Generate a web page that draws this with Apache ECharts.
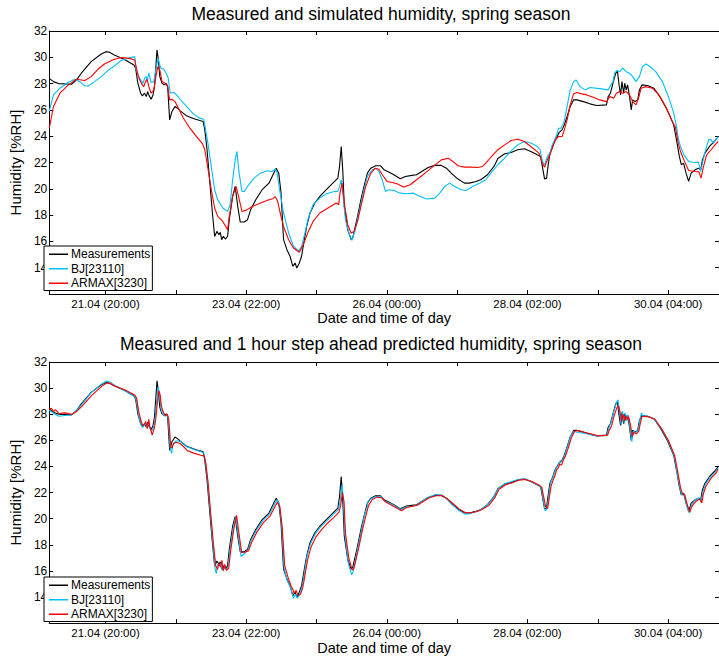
<!DOCTYPE html>
<html>
<head>
<meta charset="utf-8">
<script src="https://cdn.jsdelivr.net/npm/echarts@6/dist/echarts.min.js"></script>
<style>
html,body{margin:0;padding:0;background:#fff;}
#chart{width:719px;height:656px;}
</style>
</head>
<body>
<div id="chart"></div>
<script>
// ---- data (x = hours since 21.04 00:00, y = humidity %RH) ----
const seriesNames = ['Measurements', 'BJ[23110]', 'ARMAX[3230]'];
const titles = ['Measured and simulated humidity, spring season',
                'Measured and 1 hour step ahead predicted humidity, spring season'];
const xAxisTitle = 'Date and time of day';
const yAxisTitle = 'Humidity [%RH]';
const tickHours = [20, 45, 70, 95, 120, 145, 170, 195, 220];
const labelHours = [20, 70, 120, 170, 220];
const labelTexts = ['21.04 (20:00)', '23.04 (22:00)', '26.04 (00:00)', '28.04 (02:00)', '30.04 (04:00)'];

const measured = [[0,28.4],[1.5,28.15],[3.3,28.0],[7.9,27.95],[9.7,28.28],[11.4,28.79],[14.9,29.67],[18.5,30.25],[20.2,30.43],[21.4,30.38],[23.1,30.18],[26.6,29.85],[30.1,29.42],[30.7,29.17],[31.5,28.03],[32.5,27.27],[33.1,27.07],[33.9,27.27],[34.5,27.01],[35.0,27.39],[35.4,27.14],[36.2,26.81],[36.9,27.14],[37.4,27.77],[37.9,29.29],[38.3,30.56],[38.8,29.8],[39.3,28.53],[40.1,28.03],[40.9,27.9],[41.6,28.03],[42.1,27.77],[42.8,25.24],[43.6,25.87],[44.7,26.26],[45.6,26.13],[46.5,25.95],[48.8,25.55],[51.2,25.35],[53.5,25.19],[54.7,25.12],[55.3,24.48],[56.1,22.97],[57.0,20.69],[58.0,18.16],[58.8,16.38],[59.6,16.76],[60.3,16.51],[60.8,16.69],[61.3,16.13],[61.9,16.39],[62.6,16.18],[63.4,16.38],[64.0,17.65],[65.2,19.42],[66.1,20.18],[67.0,18.66],[67.9,17.47],[69.3,17.47],[70.5,17.65],[71.6,18.41],[73.4,19.17],[75.7,19.93],[78.1,20.43],[79.8,21.19],[80.7,21.57],[81.6,21.19],[82.4,19.67],[83.3,16.13],[84.5,15.37],[85.6,14.87],[86.6,14.1],[87.4,14.36],[88.0,13.98],[88.9,14.36],[89.7,14.87],[90.3,15.63],[91.5,17.14],[92.7,18.16],[94.4,18.92],[96.2,19.42],[98.5,19.93],[100.8,20.43],[102.6,20.81],[103.2,21.7],[103.8,23.22],[104.4,21.19],[104.9,18.66],[106.1,16.89],[107.3,16.13],[107.9,16.26],[108.8,17.14],[109.6,17.9],[110.8,19.17],[111.9,20.18],[113.1,21.19],[114.3,21.57],[116.0,21.75],[117.8,21.75],[119.0,21.45],[120.7,21.27],[122.5,21.07],[124.8,20.76],[126.6,20.94],[128.9,21.02],[130.6,21.07],[132.4,21.32],[134.7,21.62],[137.1,21.78],[139.4,21.78],[141.2,21.57],[142.9,21.19],[145.3,20.74],[147.6,20.43],[149.3,20.43],[151.7,20.56],[153.4,20.69],[155.8,21.07],[158.1,21.7],[159.5,22.3],[161.9,22.66],[164.2,22.76],[166.5,22.97],[168.9,23.04],[171.2,22.84],[173.5,22.59],[174.7,22.46],[175.3,21.7],[176.1,20.74],[176.8,20.81],[177.3,21.7],[178.0,22.71],[178.8,23.09],[179.4,23.47],[180.0,23.85],[180.6,23.98],[181.1,24.23],[181.7,24.36],[182.3,24.48],[183.1,24.86],[184.1,25.5],[185.2,26.26],[186.4,26.76],[187.6,26.76],[189.9,26.63],[192.2,26.46],[194.6,26.33],[198.1,26.38],[198.7,27.01],[199.5,27.27],[200.4,28.03],[201.4,28.79],[202.0,28.96],[202.5,28.03],[203.1,27.14],[203.6,28.15],[204.2,27.27],[204.6,28.03],[205.1,27.52],[205.6,27.9],[206.3,27.01],[206.9,26.0],[207.4,26.76],[208.3,26.64],[209.2,26.76],[209.8,27.52],[210.7,27.9],[212.7,27.85],[215.0,27.65],[217.4,26.89],[219.7,26.0],[222.0,24.86],[223.2,23.47],[224.0,22.46],[224.7,21.83],[225.5,21.95],[226.4,21.19],[227.3,20.56],[228.2,21.19],[229.6,21.44],[230.8,21.57],[231.6,21.44],[232.2,22.2],[233.1,22.71],[234.9,23.27],[236.7,23.67],[237.8,23.98]];

const bjSimulated = [[0,25.9],[1.5,27.14],[3.8,27.65],[6.8,28.1],[9.1,28.33],[10.9,28.15],[12.6,27.82],[13.8,27.82],[16.1,28.15],[18.5,28.53],[20.8,28.99],[23.1,29.34],[25.5,29.75],[27.8,29.92],[30.4,30.05],[30.8,29.17],[31.5,28.66],[32.5,28.28],[33.3,28.03],[33.9,28.41],[34.5,28.53],[34.8,28.15],[35.4,28.79],[36.2,28.08],[37.2,28.15],[38.1,29.29],[38.7,29.92],[39.3,29.42],[39.7,29.17],[40.7,29.09],[41.6,28.79],[42.3,28.41],[43.0,27.27],[44.2,27.32],[45.3,27.14],[46.5,26.81],[48.8,26.26],[51.2,25.7],[53.5,25.37],[54.9,25.29],[55.6,24.48],[56.4,23.47],[57.6,21.7],[58.8,19.93],[59.9,19.17],[61.7,18.54],[63.4,18.28],[64.3,18.79],[65.2,20.69],[66.1,22.2],[66.7,22.84],[67.5,21.19],[68.5,19.8],[69.3,19.8],[70.5,20.18],[72.8,20.81],[75.1,21.19],[77.5,21.37],[79.2,21.32],[80.4,21.5],[81.0,21.2],[81.9,19.93],[83.3,18.16],[85.1,16.64],[86.8,15.63],[88.6,15.25],[89.7,15.63],[90.9,16.64],[92.1,17.78],[93.8,18.79],[96.2,19.29],[98.5,19.62],[101.4,19.8],[102.6,19.8],[103.2,20.18],[103.8,20.69],[104.4,19.55],[105.3,17.65],[106.5,16.64],[107.6,16.08],[108.8,16.89],[110.2,18.28],[111.6,19.67],[113.1,20.94],[114.9,21.45],[116.0,21.57],[117.2,21.32],[118.4,20.69],[119.5,19.8],[120.7,19.93],[122.5,19.87],[124.8,19.67],[127.1,19.62],[129.5,19.67],[131.8,19.42],[134.2,19.22],[137.1,19.29],[138.8,19.67],[140.6,20.18],[142.3,20.43],[144.1,20.18],[146.4,19.93],[148.2,19.87],[150.5,20.18],[152.9,20.43],[155.2,20.69],[157.5,21.32],[159.5,21.83],[161.9,22.33],[164.2,22.89],[166.5,23.34],[168.9,23.6],[171.2,23.48],[173.5,23.22],[174.5,22.97],[175.3,22.08],[176.1,21.83],[177.1,22.46],[178.0,22.71],[178.8,23.34],[180.0,23.85],[181.1,24.61],[181.9,24.61],[182.9,24.99],[184.1,26.26],[185.2,27.52],[186.4,28.15],[187.3,28.28],[188.7,27.77],[190.5,27.52],[192.2,27.7],[195.7,27.62],[198.7,27.52],[199.3,27.77],[200.4,28.15],[201.0,28.79],[201.8,29.0],[202.8,28.91],[203.9,29.17],[205.1,28.91],[206.3,28.79],[207.4,28.53],[208.6,28.15],[209.8,28.53],[210.9,29.29],[212.1,29.49],[213.3,29.34],[215.6,28.91],[218.0,28.15],[220.3,26.89],[222.0,25.75],[222.9,24.86],[223.6,23.85],[224.4,23.22],[225.6,22.58],[227.3,22.08],[229.1,22.0],[230.8,22.03],[231.6,21.32],[232.6,22.33],[233.7,23.22],[234.5,23.77],[235.3,23.72],[236.1,23.47],[237.8,23.98]];

const armaxSimulated = [[0,24.6],[1.5,26.26],[3.8,27.27],[6.8,27.9],[9.7,28.33],[12.6,28.23],[14.9,28.53],[17.3,29.09],[19.6,29.49],[22.5,29.8],[25.5,29.98],[28.4,29.92],[30.4,29.8],[31.1,29.04],[31.9,28.41],[33.1,27.9],[33.6,27.77],[34.2,28.15],[34.8,28.33],[35.4,27.77],[36.2,27.27],[37.2,27.52],[37.9,28.53],[38.6,29.29],[39.3,29.04],[40.1,28.15],[41.2,28.03],[42.1,27.77],[42.8,26.76],[43.6,26.81],[44.7,26.63],[45.9,26.13],[47.7,25.37],[50.0,24.61],[52.3,23.98],[54.5,23.42],[55.3,22.97],[56.4,21.57],[57.6,19.93],[58.8,18.54],[59.9,17.9],[61.7,17.52],[63.4,16.89],[64.0,17.9],[65.2,19.42],[66.4,20.18],[67.3,19.42],[68.5,18.28],[69.9,18.36],[72.2,18.66],[75.1,18.92],[78.1,19.17],[79.5,19.25],[80.4,19.4],[81.2,19.04],[82.1,18.16],[83.3,17.14],[85.1,16.13],[86.8,15.5],[88.9,15.17],[90.3,15.75],[92.1,16.76],[93.8,17.52],[96.2,18.16],[99.1,18.54],[102.0,18.92],[102.9,18.8],[103.4,19.73],[104.1,20.43],[104.9,18.92],[106.1,17.27],[107.3,16.64],[108.4,16.76],[109.6,17.52],[110.8,18.66],[112.5,20.18],[114.3,21.19],[116.0,21.57],[117.2,21.49],[118.4,21.07],[120.1,20.56],[121.9,20.48],[123.6,20.38],[126.0,20.13],[128.3,20.31],[130.6,20.69],[133.6,21.19],[136.5,21.7],[139.4,22.2],[141.8,22.33],[143.5,22.08],[145.3,21.75],[147.6,21.65],[149.9,21.65],[152.3,21.62],[154.0,21.7],[155.2,21.95],[157.0,22.4],[159.5,22.97],[161.9,23.34],[164.2,23.67],[166.5,23.77],[168.9,23.6],[171.2,23.22],[174.1,22.71],[175.3,21.95],[176.1,21.65],[177.1,22.2],[178.0,22.58],[178.8,23.09],[180.0,23.72],[181.1,23.98],[182.3,23.98],[183.1,24.48],[184.1,25.24],[185.2,26.38],[186.4,27.22],[187.6,27.32],[189.3,27.22],[191.1,27.14],[193.4,26.96],[195.7,26.76],[198.1,26.63],[199.3,27.01],[200.7,26.89],[201.6,27.27],[202.8,27.39],[203.9,27.27],[205.1,27.39],[206.3,27.14],[207.4,26.63],[208.6,26.38],[209.5,26.89],[210.4,27.65],[212.1,27.77],[214.4,27.65],[216.8,27.14],[219.1,26.26],[221.5,25.12],[222.6,24.69],[223.6,23.47],[224.4,22.84],[225.6,22.2],[227.3,21.39],[229.6,21.32],[231.0,21.29],[231.7,20.81],[232.6,21.7],[233.7,22.58],[235.3,22.97],[236.7,23.34],[237.8,23.6]];

const bjPredicted = [[0,28.3],[1.5,28.1],[3.3,27.85],[5.5,27.9],[7.9,27.95],[9.7,28.3],[11.4,28.7],[14.9,29.65],[18.5,30.3],[20.4,30.55],[21.6,30.45],[23.3,30.2],[26.8,29.8],[30.3,29.35],[30.9,29.1],[31.7,28.0],[32.7,27.15],[33.3,27.0],[34.1,27.3],[34.7,26.95],[35.2,27.35],[35.6,27.1],[36.4,26.7],[37.1,27.0],[37.6,27.6],[38.2,29.0],[38.7,30.1],[39.2,29.6],[39.7,28.45],[40.4,28.0],[41.1,27.85],[41.8,27.95],[42.3,27.7],[43.0,25.4],[43.5,25.0],[44.0,25.7],[44.9,25.95],[45.8,25.95],[46.7,25.9],[49.0,25.5],[51.4,25.3],[53.7,25.15],[54.9,25.05],[55.5,24.45],[56.3,22.9],[57.2,20.6],[58.2,18.0],[59.0,16.1],[59.4,15.8],[59.9,16.5],[60.5,16.4],[61.0,16.6],[61.5,16.05],[62.1,16.3],[62.8,16.1],[63.6,16.3],[64.2,17.5],[65.4,19.3],[66.3,20.2],[67.2,18.7],[68.2,17.1],[69.5,17.35],[70.7,17.6],[71.8,18.35],[73.6,19.1],[75.9,19.85],[78.3,20.35],[80.0,21.05],[80.9,21.45],[81.8,21.1],[82.6,19.6],[83.5,16.2],[84.7,15.2],[85.8,14.7],[86.8,13.9],[87.6,14.2],[88.2,13.9],[89.1,14.25],[89.9,14.8],[90.5,15.55],[91.7,17.2],[92.9,18.1],[94.6,18.85],[96.4,19.35],[98.7,19.85],[101.0,20.35],[102.8,20.7],[103.4,21.3],[104.1,22.6],[104.6,21.4],[105.1,18.8],[106.3,16.6],[107.5,15.7],[108.1,16.0],[109.0,17.0],[109.8,17.85],[111.0,19.1],[112.1,20.3],[113.0,20.9],[113.3,21.3],[114.5,21.55],[116.2,21.7],[118.0,21.7],[119.2,21.35],[120.9,21.2],[122.7,21.0],[125.0,20.7],[126.8,20.9],[129.1,20.95],[130.8,21.05],[132.6,21.35],[134.9,21.65],[137.3,21.85],[139.6,21.8],[141.4,21.5],[143.1,21.1],[145.5,20.65],[147.8,20.35],[149.5,20.38],[151.9,20.55],[153.6,20.7],[156.0,21.1],[158.3,21.75],[159.7,22.35],[162.1,22.7],[164.4,22.85],[166.7,23.0],[169.1,23.05],[171.4,22.85],[173.7,22.55],[174.9,22.4],[175.5,21.6],[176.3,20.6],[177.0,20.75],[177.5,21.6],[178.2,22.75],[179.0,23.15],[179.6,23.5],[180.2,23.9],[180.8,24.05],[181.3,24.3],[181.9,24.35],[182.5,24.5],[183.3,24.9],[184.3,25.55],[185.4,26.35],[186.6,26.7],[187.8,26.6],[190.1,26.55],[192.4,26.45],[194.8,26.35],[198.3,26.4],[198.9,26.95],[199.7,27.35],[200.6,28.1],[201.6,28.85],[202.2,29.1],[202.7,28.2],[203.3,27.2],[203.8,28.25],[204.4,27.3],[204.8,28.1],[205.3,27.5],[205.8,27.95],[206.5,26.9],[207.1,25.9],[207.6,26.7],[208.5,26.6],[209.4,26.8],[210.0,27.6],[210.5,28.1],[210.9,27.9],[212.9,27.85],[215.2,27.6],[217.6,26.9],[219.9,26.0],[222.2,24.8],[223.4,23.3],[224.2,22.35],[224.9,21.8],[225.7,21.9],[226.6,21.0],[227.5,20.45],[228.4,21.1],[229.8,21.45],[231.0,21.6],[231.8,21.3],[232.4,22.1],[233.3,22.65],[235.1,23.2],[236.9,23.6],[237.8,23.9]];

const armaxPredicted = [[0,28.4],[0.8,28.45],[1.5,28.2],[2.2,28.35],[3.5,28.05],[5.5,28.1],[8.1,28.0],[9.9,28.25],[11.6,28.6],[15.1,29.45],[18.7,30.15],[20.6,30.4],[21.8,30.35],[23.5,30.15],[27.0,29.85],[30.5,29.45],[31.1,29.2],[31.9,28.1],[32.9,27.3],[33.5,27.1],[34.3,27.45],[34.9,26.9],[35.4,27.6],[35.8,27.0],[36.6,26.4],[37.3,26.9],[37.8,27.5],[38.4,28.8],[38.9,29.8],[39.4,29.5],[39.9,28.6],[40.6,28.1],[41.3,27.9],[42.0,28.0],[42.5,27.6],[43.2,25.5],[43.6,25.4],[44.2,25.75],[45.1,25.85],[46.0,25.8],[46.9,25.7],[49.2,25.2],[51.6,25.0],[53.9,24.85],[55.1,24.8],[55.7,24.2],[56.5,22.7],[57.4,20.4],[58.4,18.0],[59.2,16.4],[59.8,16.1],[60.3,16.55],[60.9,16.3],[61.4,16.8],[61.9,16.0],[62.4,16.5],[63.0,16.05],[63.8,16.2],[64.4,17.4],[65.6,19.2],[66.6,20.25],[67.5,18.8],[68.4,17.4],[69.7,17.45],[70.9,17.55],[72.0,18.2],[73.8,18.95],[76.1,19.7],[78.5,20.2],[80.2,20.9],[81.1,21.25],[82.0,20.9],[82.8,19.4],[83.7,16.4],[84.9,15.5],[86.0,14.85],[86.6,14.6],[87.0,14.3],[87.8,14.5],[88.4,14.1],[89.3,14.2],[90.1,14.7],[90.7,15.4],[91.9,16.9],[93.1,17.85],[94.8,18.6],[96.6,19.1],[98.9,19.65],[101.2,20.1],[103.0,20.5],[103.6,21.0],[104.2,22.0],[104.8,21.3],[105.3,18.9],[106.5,17.0],[107.7,16.05],[108.3,16.2],[109.2,17.0],[110.0,17.75],[111.2,19.0],[112.3,20.0],[113.5,21.0],[114.7,21.45],[116.4,21.65],[118.2,21.6],[119.4,21.3],[121.1,21.1],[122.9,20.9],[125.2,20.6],[127.0,20.85],[129.3,20.95],[131.0,21.05],[132.8,21.3],[135.1,21.6],[137.5,21.75],[139.8,21.75],[141.6,21.5],[143.3,21.2],[145.7,20.75],[148.0,20.45],[149.7,20.45],[152.1,20.55],[153.8,20.7],[156.2,21.0],[158.5,21.65],[159.9,22.25],[162.3,22.6],[164.6,22.75],[166.9,22.95],[169.3,23.0],[171.6,22.85],[173.9,22.6],[175.1,22.4],[175.7,21.75],[176.5,20.9],[177.2,20.8],[177.7,21.5],[178.4,22.5],[179.2,23.0],[179.8,23.3],[180.4,23.75],[181.0,23.9],[181.5,24.2],[182.1,24.1],[182.7,24.45],[183.5,24.8],[184.5,25.4],[185.6,26.2],[186.8,26.7],[188.0,26.75],[190.3,26.6],[192.6,26.5],[195.0,26.35],[198.5,26.4],[199.1,26.8],[199.9,27.1],[200.8,27.85],[201.8,28.5],[202.4,28.65],[202.9,28.2],[203.5,27.4],[204.0,28.0],[204.6,27.5],[205.0,27.9],[205.5,27.6],[206.0,27.8],[206.7,27.1],[207.3,26.3],[207.8,26.6],[208.7,26.5],[209.6,26.7],[210.2,27.4],[210.8,27.85],[213.1,27.8],[215.4,27.6],[217.8,26.85],[220.1,26.0],[222.4,24.8],[223.6,23.4],[224.4,22.4],[225.1,21.9],[225.9,21.85],[226.8,21.1],[227.7,20.5],[228.6,21.0],[230.0,21.35],[231.2,21.5],[232.0,21.2],[232.6,21.95],[233.5,22.5],[235.3,23.1],[237.1,23.5],[237.8,23.8]];

// ---- styling / layout ----
const FONT = '"Liberation Sans", Arial, Helvetica, sans-serif';
const colors = ['#000000', '#00BFFF', '#FF0000'];
const gridTops = [31, 362];
const gridHeights = [263, 262];
const X_MAX = 238.1;

const chart = echarts.init(document.getElementById('chart'), null, {renderer: 'svg'});

const grids = [], xAxes = [], yAxes = [], series = [], legends = [], graphics = [];
const panelData = [[measured, bjSimulated, armaxSimulated], [measured, bjPredicted, armaxPredicted]];

for (let p = 0; p < 2; p++) {
  grids.push({left: 41, right: -1, top: gridTops[p], height: gridHeights[p], containLabel: false});
  const axLine = {show: true, onZero: false, lineStyle: {color: '#000', width: 1}};
  xAxes.push({
    gridIndex: p, type: 'value', position: 'bottom', min: 0, max: X_MAX,
    axisLine: axLine,
    axisTick: {show: true, inside: true, length: 4, lineStyle: {color: '#000'}, customValues: tickHours},
    axisLabel: {show: true, customValues: labelHours, margin: 4, color: '#000', fontSize: 11.5, fontFamily: FONT,
      formatter: v => { const i = labelHours.indexOf(Math.round(v)); return i >= 0 ? labelTexts[i] : ''; }},
    splitLine: {show: false},
    name: xAxisTitle, nameLocation: 'middle', nameGap: 14,
    nameTextStyle: {color: '#000', fontSize: 14.5, fontFamily: FONT}
  });
  xAxes.push({
    gridIndex: p, type: 'value', position: 'top', min: 0, max: X_MAX,
    axisLine: axLine,
    axisTick: {show: true, inside: true, length: 4, lineStyle: {color: '#000'}, customValues: tickHours},
    axisLabel: {show: false}, splitLine: {show: false}
  });
  yAxes.push({
    gridIndex: p, type: 'value', position: 'left', min: 12, max: 32, interval: 2,
    axisLine: axLine,
    axisTick: {show: true, inside: true, length: 4, lineStyle: {color: '#000'}},
    axisLabel: {show: true, margin: 2, color: '#000', fontSize: 12, fontFamily: FONT,
      formatter: v => (v === 12 ? '' : String(v))},
    splitLine: {show: false},
    name: yAxisTitle, nameLocation: 'middle', nameGap: 19,
    nameTextStyle: {color: '#000', fontSize: 15, fontFamily: FONT}
  });
  yAxes.push({
    gridIndex: p, type: 'value', position: 'right', min: 12, max: 32, interval: 2,
    axisLine: axLine,
    axisTick: {show: true, inside: true, length: 4, lineStyle: {color: '#000'}},
    axisLabel: {show: false}, splitLine: {show: false}
  });
  for (let s = 0; s < 3; s++) {
    series.push({
      name: seriesNames[s], type: 'line', xAxisIndex: p * 2, yAxisIndex: p * 2,
      data: panelData[p][s], symbol: 'none', showSymbol: false, smooth: false,
      animation: false, clip: true,
      lineStyle: {color: colors[s], width: 1.1}, itemStyle: {color: colors[s]}
    });
  }
  legends.push({
    data: seriesNames.map(n => ({name: n, icon: 'rect'})), orient: 'vertical', left: 44, top: gridTops[p] + 215,
    itemWidth: 19, itemHeight: 1.5, itemGap: 0,
    padding: [1, 2, 0, 5], borderColor: '#000', borderWidth: 1, backgroundColor: '#fff',
    textStyle: {color: '#000', fontSize: 12, fontFamily: FONT, lineHeight: 14.5, padding: [0, 0, 0, -2]},
    selectedMode: false, z: 10
  });
  graphics.push({
    type: 'text', x: 381, y: p === 0 ? 14 : 344,
    style: {text: titles[p], fill: '#000', font: '17.5px ' + FONT, textAlign: 'center', textVerticalAlign: 'middle'}
  });
}

chart.setOption({
  animation: false,
  backgroundColor: '#fff',
  grid: grids, xAxis: xAxes, yAxis: yAxes, series: series, legend: legends,
  graphic: graphics
});
</script>
</body>
</html>
